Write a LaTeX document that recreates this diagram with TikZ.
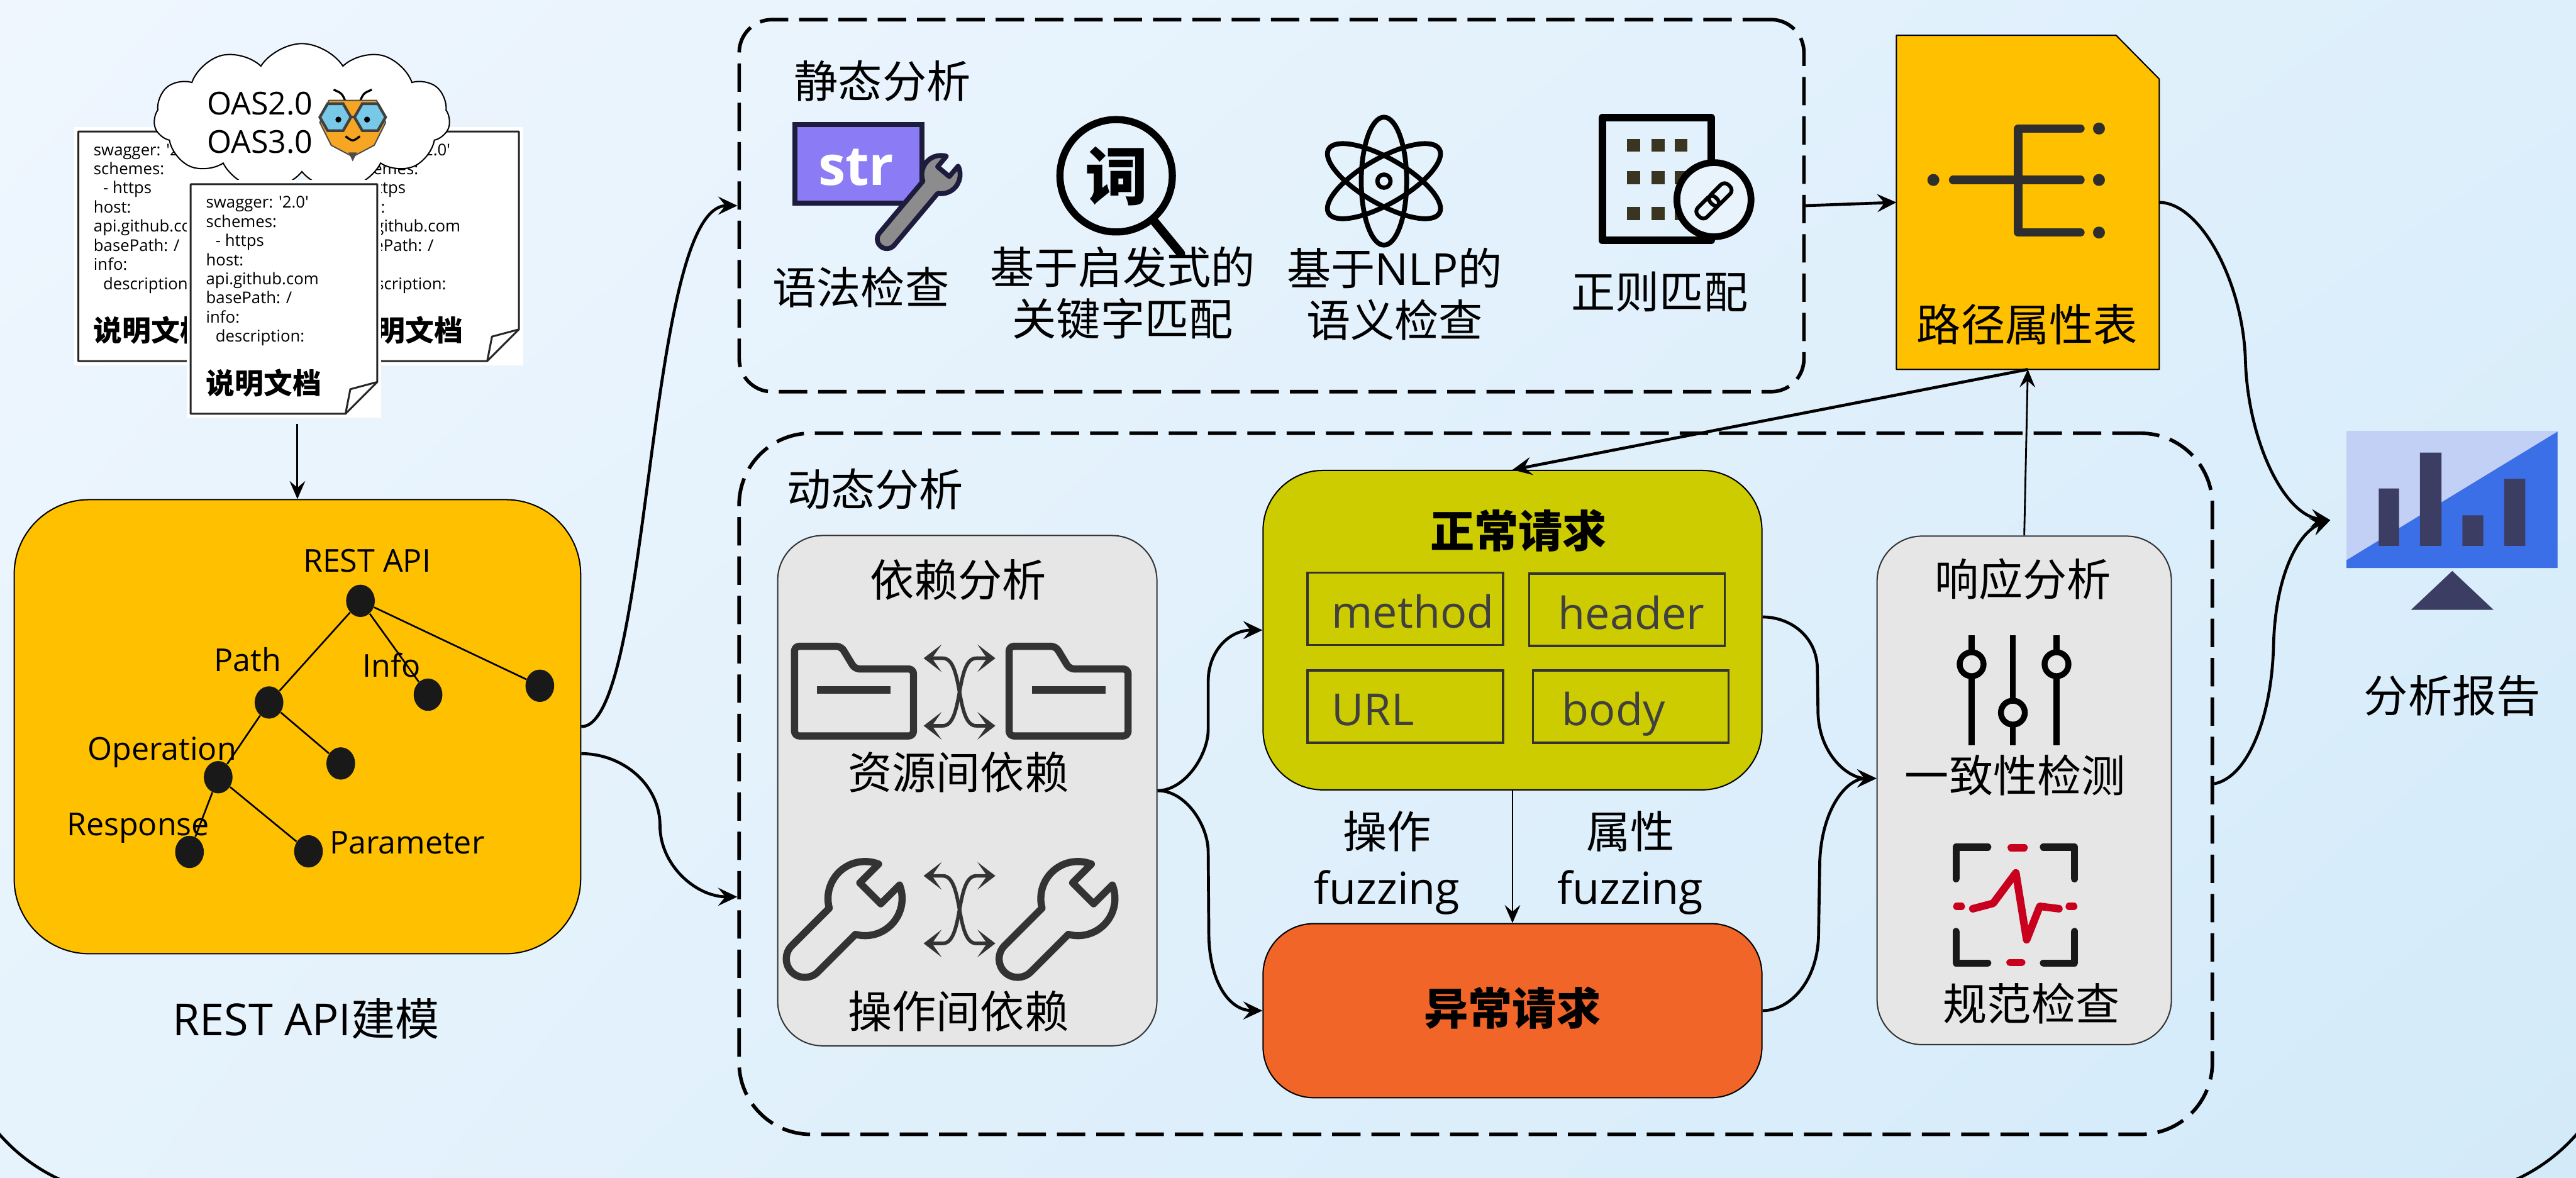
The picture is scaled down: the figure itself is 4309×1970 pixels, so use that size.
\documentclass[tikz,border=0pt]{standalone}
\usepackage{fontspec}
\setmainfont{Noto Sans CJK SC}
\newfontfamily\lat{Open Sans}
\usetikzlibrary{arrows.meta,shapes.symbols,shapes.geometric,shadings}

\definecolor{bgA}{RGB}{239,246,254}
\definecolor{bgB}{RGB}{221,239,251}
\definecolor{bgC}{RGB}{230,243,252}
\definecolor{bgD}{RGB}{211,234,249}
\definecolor{bgmid}{RGB}{232,243,252}
\definecolor{amber}{RGB}{255,192,0}
\definecolor{olive}{RGB}{204,204,0}
\definecolor{tomato}{RGB}{241,101,41}
\definecolor{panel}{RGB}{230,230,230}
\definecolor{ink}{RGB}{51,51,51}
\definecolor{strpurple}{RGB}{139,124,246}
\definecolor{strnavy}{RGB}{30,28,60}
\definecolor{wrenchgray}{RGB}{140,140,140}
\definecolor{winc}{RGB}{58,53,32}
\definecolor{pulse}{RGB}{200,0,30}
\definecolor{screenlight}{RGB}{195,208,245}
\definecolor{screenblue}{RGB}{58,111,232}
\definecolor{barnavy}{RGB}{59,62,98}
\definecolor{beeorange}{RGB}{246,166,35}
\definecolor{beeblue}{RGB}{120,200,232}

% one sheet of the specification stack: #1 = left, #2 = top
\newcommand\docpage[2]{%
  \fill[white] ({#1-7},{#2-7}) rectangle ({#1+319},{#2+391});
  \draw[line width=0.9pt, black!85, line join=round]
    (#1,#2) -- ({#1+312},#2) -- ({#1+312},{#2+331}) -- ({#1+259},{#2+384}) -- (#1,{#2+384}) -- cycle;
  \draw[line width=0.9pt, black!85, line join=round]
    ({#1+312},{#2+331}) -- ({#1+267},{#2+343}) -- ({#1+259},{#2+384});
  \foreach \docline [count=\i] in {{swagger: '2.0'},{schemes:},{\hspace{0.16cm}- https},{host:},{api.github.com},{basePath: /},{info:},{\hspace{0.16cm}description:}}{%
    \node[font=\lat\fontsize{7.7}{9}\selectfont, anchor=base west, inner sep=0]
      at ({#1+25},{#2+40+(\i-1)*32}) {\docline};
  }
  \node[font=\bfseries\fontsize{13.7}{14}\selectfont, anchor=base west, inner sep=0]
    at ({#1+25},{#2+351}) {说明文档};
}

% open-end wrench, head centred on the origin, handle along -x
\newcommand\wrenchpath[1]{(0.9165,0.4) arc[start angle=23.58, end angle=150, radius=1]
  -- (-#1,0.5) arc[start angle=90, end angle=270, radius=0.5]
  -- (-0.866,-0.5) arc[start angle=210, end angle=336.42, radius=1]
  -- (0.2,-0.4) -- (0.2,0.4) -- cycle}

% folder outline: #1 = left, #2 = top
\newcommand\folder[2]{%
  \begin{scope}[shift={(#1,#2)}]
    \draw[icon, rounded corners=0.08cm] (0,0) -- (78,0) -- (101,38) -- (199,38) -- (199,150) -- (0,150) -- cycle;
    \draw[icon, line cap=butt] (38,73) -- (161,73);
  \end{scope}}

% two crossing exchange arrows: #1 = left, #2 = top, #3 = bottom
\newcommand\swaparrows[3]{%
  \draw[swapline] (#1,#2) -- ({#1+32},#2) .. controls ({#1+67},#2) and ({#1+53},#3) .. ({#1+88},#3) -- ({#1+120},#3);
  \draw[swapline] ({#1+120},#2) -- ({#1+88},#2) .. controls ({#1+53},#2) and ({#1+67},#3) .. ({#1+32},#3) -- (#1,#3);}

\begin{document}
\begin{tikzpicture}[x=0.01cm, y=-0.01cm,
  conn/.style={line width=1.4pt, -{Stealth[length=0.32cm, width=0.3cm, inset=0.12cm]}},
  thinconn/.style={line width=0.85pt, -{Stealth[length=0.3cm, width=0.26cm, inset=0.11cm]}},
  swapline/.style={line width=1.7pt, ink, {Stealth[length=0.3cm, width=0.46cm, inset=0.16cm]}-{Stealth[length=0.3cm, width=0.46cm, inset=0.16cm]}},
  dashbox/.style={draw, line width=1.7pt, dash pattern=on 13.5pt off 5.2pt, inner sep=0},
  panelbox/.style={draw=black!80, line width=0.6pt, fill=panel, inner sep=0},
  lab/.style={font=\fontsize{21}{25}\selectfont, inner sep=0},
  latlab/.style={font=\lat\fontsize{21}{25}\selectfont, inner sep=0},
  treelab/.style={font=\lat\fontsize{15}{18}\selectfont, inner sep=0},
  dot/.style={ellipse, fill=black!90, minimum width=0.48cm, minimum height=0.54cm, inner sep=0},
  fieldbox/.style={draw=black!80, line width=1pt, inner sep=0, minimum width=3.27cm, minimum height=1.21cm},
  icon/.style={line width=3.4pt, draw=ink, line cap=round, line join=round},
]
\useasboundingbox (0,0) rectangle (4309,1970);
\clip (0,0) rectangle (4309,1970);

% ---------- background and outer frame ----------
\shade[upper left=bgA, upper right=bgB, lower left=bgC, lower right=bgD] (0,0) rectangle (4309,1970);
\draw[line width=1.4pt, rounded corners=3cm] (-75,-400) rectangle (4384,2000);

% ---------- specification documents ----------
\docpage{131}{220}
\docpage{556}{220}
\node[cloud, cloud puffs=11, cloud puff arc=115, aspect=2, draw, fill=white, line width=0.6pt,
      minimum width=4.95cm, minimum height=2.48cm, inner sep=0] (spec) at (505,197) {};
\docpage{319}{308}
\node[font=\lat\fontsize{15}{18.2}\selectfont, align=left, anchor=west, inner sep=0] (oas) at (346,205) {OAS2.0\\OAS3.0};
% bee mascot
\fill[white] (526,142) rectangle (654,266);
\draw[line width=1pt] (578,170) .. controls (572,156) .. (558,150);
\draw[line width=1pt] (602,170) .. controls (608,156) .. (622,150);
\draw[fill=beeorange, draw=black!70, line width=0.6pt, line join=round]
  (550,168) -- (630,168) -- (645,205) -- (626,243) -- (590,262) -- (554,243) -- (535,205) -- cycle;
\fill[black!70] (583,255) -- (597,255) -- (590,270) -- cycle;
\foreach \gx in {561,619}{
  \draw[fill=beeblue, draw=black!75, line width=1.3pt] (\gx,196) +(0:26) -- +(60:26) -- +(120:26) -- +(180:26) -- +(240:26) -- +(300:26) -- cycle;
}
\draw[line width=1.3pt, black!75] (587,196) -- (593,196);
\fill (566,200) circle [radius=5];
\fill (614,200) circle [radius=5];
\draw[line width=1pt] (578,228) .. controls (590,237) .. (602,228);
\coordinate (docbot) at (497.5,709);

% ---------- REST API model ----------
\node[draw, line width=0.6pt, fill=amber, rounded corners=1.25cm, minimum width=9.47cm, minimum height=7.59cm, inner sep=0] (model) at (497.5,1215.5) {};
\node[dot] (t0) at (603,1005) {};
\node[dot] (t1) at (450,1175) {};
\node[dot] (t2) at (716,1162) {};
\node[dot] (t3) at (903,1147) {};
\node[dot] (t4) at (570,1277) {};
\node[dot] (t5) at (365,1300) {};
\node[dot] (t6) at (317,1425) {};
\node[dot] (t7) at (516,1424) {};
\draw[line width=0.8pt] (t0) -- (t1) (t0) -- (t2) (t0) -- (t3) (t1) -- (t4) (t1) -- (t5) (t5) -- (t6) (t5) -- (t7);
\node[treelab] (lroot) at (614,938) {REST API};
\node[treelab] (lpath) at (414,1103) {Path};
\node[treelab] (linfo) at (655,1113) {Info};
\node[treelab] (lop) at (271,1258) {Operation};
\node[treelab] (lresp) at (231,1385) {Response};
\node[treelab] (lparam) at (681,1409) {Parameter};
\node[font=\fontsize{21}{25}\selectfont, inner sep=0] (modeltitle) at (512,1704) {{\lat REST API}建模};

% ---------- static analysis ----------
\node[dashbox, rounded corners=0.55cm, minimum width=17.8cm, minimum height=6.22cm] (static) at (2127,344) {};
\node[lab] (stitle) at (1476,135) {静态分析};
% syntax check icon
\draw[fill=strpurple, draw=strnavy, line width=2.3pt] (1330,208) rectangle (1542,340);
\node[text=white, font=\lat\bfseries\fontsize{26}{26}\selectfont, inner sep=0] at (1432,280) {str};
\begin{scope}[shift={(1574,292)}, rotate=50, scale=32]
  \draw[fill=wrenchgray, draw=strnavy, line width=2.3pt, line join=round] \wrenchpath{4.4};
\end{scope}
\node[lab] (s1) at (1440,480) {语法检查};
% keyword search icon
\draw[line width=3.4pt] (1867,294) circle [radius=94];
\draw[line width=4.2pt, line cap=round] (1929,368) -- (1975,424);
\node[font=\bfseries\fontsize{30}{30}\selectfont, inner sep=0] at (1868,295) {词};
\node[lab, align=center, font=\fontsize{21}{24.7}\selectfont] (s2) at (1878,490) {基于启发式的\\关键字匹配};
% NLP icon
\begin{scope}[shift={(2315,303)}]
  \draw[line width=2.3pt] (0,0) ellipse [x radius=38, y radius=107];
  \draw[line width=2.3pt, rotate=60] (0,0) ellipse [x radius=38, y radius=107];
  \draw[line width=2.3pt, rotate=-60] (0,0) ellipse [x radius=38, y radius=107];
  \draw[line width=2pt] (0,0) circle [radius=11];
\end{scope}
\node[lab, align=center, font=\fontsize{21}{24.7}\selectfont] (s3) at (2333,492) {基于{\lat NLP}的\\语义检查};
% regex icon
\draw[line width=3.6pt, line join=round] (2680,197) rectangle (2862,402);
\foreach \cx in {2733,2774,2812}{\foreach \cy in {243,297,357}{\fill[winc] (\cx-11,\cy-11) rectangle (\cx+11,\cy+11);}}
\draw[line width=3.2pt, fill=bgmid] (2867,334) circle [radius=62];
\begin{scope}[shift={(2867,336)}, rotate=45]
  \draw[line width=1.8pt, rounded corners=0.09cm] (-36,-11) rectangle (6,11);
  \draw[line width=1.8pt, rounded corners=0.09cm] (-6,-11) rectangle (36,11);
\end{scope}
\node[lab] (s4) at (2776,488) {正则匹配};

% ---------- path attribute table ----------
\node[minimum width=4.38cm, minimum height=5.57cm, inner sep=0] (tab) at (3392,338.5) {};
\draw[fill=amber, line width=0.6pt, line join=round] (tab.north west) -- ([xshift=-0.72cm]tab.north east) -- ([yshift=-0.73cm]tab.north east) -- (tab.south east) -- (tab.south west) -- cycle;
\draw[line width=4pt, line cap=round, line join=round, draw=black!82] (3267,301) -- (3480,301) (3480,215) -- (3376,215) -- (3376,389) -- (3480,389);
\fill[black!82] (3234,301) circle [radius=10] (3511,215) circle [radius=10] (3511,301) circle [radius=10] (3511,389) circle [radius=10];
\node[lab] (tabtitle) at (3391,543) {路径属性表};

% ---------- dynamic analysis ----------
\node[dashbox, rounded corners=1.2cm, minimum width=24.63cm, minimum height=11.72cm] (dyn) at (2468.5,1311) {};
\node[lab] (dtitle) at (1464,818) {动态分析};

\node[panelbox, rounded corners=0.75cm, minimum width=6.34cm, minimum height=8.53cm] (dep) at (1618,1322.5) {};
\node[lab] (deptitle) at (1603,970) {依赖分析};
\folder{1329}{1081}
\folder{1688}{1081}
\swaparrows{1545}{1101}{1214}
\node[lab] (dep1) at (1603,1292) {资源间依赖};
\begin{scope}[shift={(1447,1503)}, rotate=45, scale=62]
  \draw[icon] \wrenchpath{2.3};
\end{scope}
\begin{scope}[shift={(1803,1503)}, rotate=45, scale=62]
  \draw[icon] \wrenchpath{2.3};
\end{scope}
\swaparrows{1545}{1465}{1578}
\node[lab] (dep2) at (1603,1692) {操作间依赖};

\node[draw, line width=0.6pt, fill=olive, rounded corners=1cm, minimum width=8.34cm, minimum height=5.34cm, inner sep=0] (normal) at (2530,1054) {};
\node[font=\bfseries\fontsize{21}{25}\selectfont, inner sep=0] (ntitle) at (2540,888) {正常请求};
\node[fieldbox] (fmethod) at (2350.5,1018.5) {};
\node[fieldbox] (fheader) at (2721.5,1020) {};
\node[fieldbox] (furl) at (2350.5,1182) {};
\node[fieldbox] (fbody) at (2727.5,1182) {};
\node[latlab, text=black!75, anchor=base west] at (2227,1050) {method};
\node[latlab, text=black!75, anchor=base west] at (2606,1052) {header};
\node[latlab, text=black!75, anchor=base west] at (2227,1214) {URL};
\node[latlab, text=black!75, anchor=base west] at (2612,1214) {body};

\node[draw, line width=0.6pt, fill=tomato, rounded corners=0.85cm, minimum width=8.34cm, minimum height=2.91cm, inner sep=0] (abn) at (2530,1690.5) {};
\node[font=\bfseries\fontsize{21}{25}\selectfont, inner sep=0] (atitle) at (2530,1686) {异常请求};

\node[lab, align=center, font=\fontsize{21}{26.5}\selectfont] (fz1) at (2320,1443) {操作\\{\lat fuzzing}};
\node[lab, align=center, font=\fontsize{21}{26.5}\selectfont] (fz2) at (2727,1443) {属性\\{\lat fuzzing}};

\node[panelbox, rounded corners=0.75cm, minimum width=4.92cm, minimum height=8.5cm] (resp) at (3386,1322) {};
\node[lab] (rtitle) at (3384,969) {响应分析};
\foreach \sx in {3298,3367,3440}{\draw[line width=2.8pt] (\sx,1063) -- (\sx,1247);}
\draw[line width=2.8pt, fill=panel] (3298,1111) circle [radius=20] (3367,1192) circle [radius=20] (3440,1111) circle [radius=20];
\node[lab] (r1) at (3371,1297) {一致性检测};
\draw[line width=3.4pt, black!90, line cap=round, line join=round]
  (3272,1470) -- (3272,1417) -- (3325,1417)
  (3418,1417) -- (3470,1417) -- (3470,1470)
  (3272,1558) -- (3272,1611) -- (3325,1611)
  (3418,1611) -- (3470,1611) -- (3470,1558);
\draw[line width=3.4pt, pulse, line cap=round]
  (3364,1418) -- (3386,1418) (3362,1610) -- (3382,1610) (3273,1516) -- (3281,1516) (3461,1516) -- (3469,1516);
\draw[line width=3.6pt, pulse, line cap=round, line join=round]
  (3300,1520) -- (3334,1511) -- (3372,1460) -- (3390,1572) -- (3412,1516) -- (3444,1520);
\node[lab] (r2) at (3398,1679) {规范检查};

% ---------- report ----------
\fill[screenlight] (3925,721) rectangle (4278,950);
\fill[screenblue] (3925,937) -- (4278,722) -- (4278,950) -- (3925,950) -- cycle;
\fill[barnavy] (3979,817) rectangle (4013,913) (4048,757) rectangle (4084,913) (4119,862) rectangle (4154,913) (4189,801) rectangle (4224,913);
\fill[barnavy] (4033,1020) -- (4171,1020) -- (4102,955) -- cycle;
\node[minimum width=3.53cm, minimum height=2.29cm, inner sep=0] (mon) at (4101.5,835.5) {};
\coordinate (repin) at (3898,870);
\node[lab] (reptitle) at (4102,1164) {分析报告};

% ---------- connectors ----------
\draw[thinconn] (docbot) -- (model.north);
\draw[conn] (model.east) .. controls (1090,1215) and (1080,344) .. (static.west);
\draw[conn] ([yshift=-0.45cm]model.east) .. controls (1044,1261) and (1104,1314) .. (1104,1381) .. controls (1104,1447) and (1164,1500) .. ([yshift=-1.89cm]dyn.west);
\draw[conn] (dep.east) .. controls (1983,1322) and (2021,1262) .. (2021,1220) -- (2021,1140) .. controls (2021,1090) and (2055,1054) .. (normal.west);
\draw[conn] (dep.east) .. controls (1983,1322) and (2021,1380) .. (2021,1425) -- (2022,1560) .. controls (2022,1640) and (2055,1690) .. (abn.west);
\draw[thinconn] (normal.south) -- (abn.north);
\draw[conn] ([yshift=0.22cm]normal.east) .. controls (2995,1032) and (3040,1065) .. (3040,1120) -- (3041,1190) .. controls (3042,1260) and (3090,1302) .. ([yshift=0.2cm]resp.west);
\draw[conn] (abn.east) .. controls (2995,1690) and (3042,1640) .. (3042,1560) -- (3044,1440) .. controls (3048,1350) and (3090,1302) .. ([yshift=0.2cm]resp.west);
\draw[thinconn] (resp.north) -- (tab.south);
\draw[conn] (tab.south) -- (normal.north);
\draw[conn] (static.east) -- (tab.west);
\draw[conn] (tab.east) .. controls (3680,339) and (3752,470) .. (3756,603) .. controls (3760,736) and (3820,862) .. (repin);
\draw[conn] (dyn.east) .. controls (3760,1300) and (3800,1200) .. (3803,1080) .. controls (3806,960) and (3845,890) .. (repin);
\end{tikzpicture}
\end{document}
